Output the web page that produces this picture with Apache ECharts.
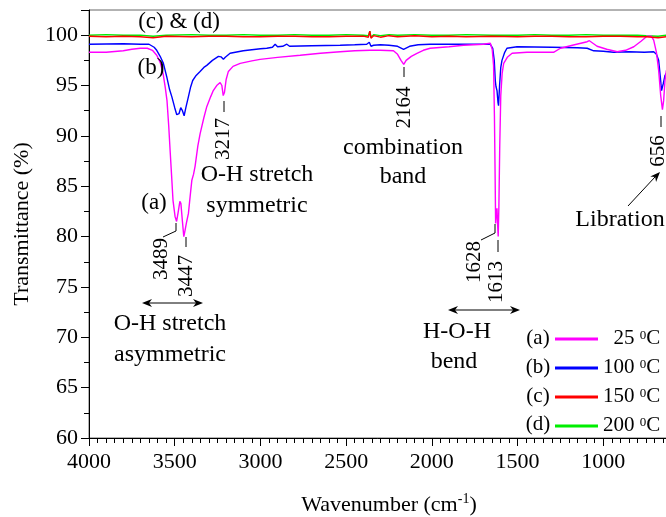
<!DOCTYPE html>
<html>
<head>
<meta charset="utf-8">
<script src="https://cdn.jsdelivr.net/npm/echarts@6/dist/echarts.min.js"></script>
<style>
  * { margin: 0; padding: 0; }
  body { background: #fff; }
  #chart { width: 666px; height: 517px; }
</style>
</head>
<body>
<div id="chart"></div>
<script>
// (a) 25 C
var wnA = [4000,3900,3800,3750,3700,3660,3630,3605,3585,3568,3555,3545,3535,3527,3518,3510,3498,3489,3480,3470,3464,3455,3447,3440,3430,3420,3410,3400,3390,3381,3365,3352,3330,3313,3290,3275,3255,3235,3225,3217,3210,3200,3187,3160,3118,3050,3002,2900,2768,2650,2535,2450,2360,2300,2224,2200,2180,2164,2150,2120,2087,2050,2010,1900,1815,1700,1659,1648,1640,1635,1631,1628,1624,1620,1616,1613,1609,1604,1598,1590,1581,1560,1532,1445,1350,1290,1250,1180,1094,1081,1070,1036,980,919,870,822,780,745,735,720,706,690,677,665,655,648,640,632];
var tA = [98.3,98.3,98.45,98.6,98.7,98.7,98.5,98.0,97.3,96.2,94.8,93.5,91.0,88.6,86.0,83.6,82.0,81.5,82.4,83.5,83.3,81.5,80.0,80.6,81.5,82.3,84.0,85.6,86.2,87.0,89.0,90.2,91.8,92.9,93.9,94.5,95.0,95.3,95.0,94.0,94.3,95.6,96.4,96.9,97.2,97.45,97.6,97.8,98.0,98.2,98.35,98.45,98.5,98.5,98.45,98.1,97.5,97.1,97.5,97.9,98.2,98.5,98.7,98.85,99.0,99.1,99.2,98.6,97.0,92.0,86.0,81.3,82.5,82.8,81.0,80.0,83.0,89.0,94.0,96.2,97.2,97.8,98.2,98.3,98.3,98.3,98.7,99.0,99.35,99.45,99.3,98.9,98.6,98.35,98.5,98.85,99.4,99.9,100.0,99.9,99.5,98.3,96.5,94.0,92.6,93.5,95.5,96.5];

// (b) 100 C
var wnB = [4000,3800,3700,3650,3620,3605,3585,3566,3547,3530,3517,3500,3488,3475,3465,3455,3445,3435,3420,3408,3395,3375,3352,3330,3313,3280,3245,3230,3216,3205,3177,3100,3000,2963,2930,2914,2900,2870,2846,2830,2700,2535,2450,2380,2365,2355,2340,2300,2250,2200,2165,2130,2080,2010,1800,1659,1645,1636,1630,1626,1620,1614,1611,1605,1598,1591,1575,1562,1503,1300,1150,1094,1056,1000,940,850,760,706,690,677,668,660,650,640,632];
var tB = [99.1,99.15,99.1,99.1,98.8,98.5,97.9,97.2,95.9,94.6,93.9,92.8,92.1,92.2,92.8,92.5,92.0,92.8,93.9,94.8,95.5,96.0,96.4,96.8,97.0,97.5,97.9,97.85,97.6,97.8,98.2,98.45,98.65,98.7,98.8,99.1,98.85,98.9,99.1,98.9,98.95,99.0,99.05,99.1,99.3,98.9,99.0,99.05,99.0,98.9,98.6,98.9,99.05,99.1,99.1,99.1,98.7,97.5,95.5,94.9,94.5,93.3,93.0,95.0,96.8,97.5,98.3,98.7,98.85,98.8,98.75,98.7,98.45,98.4,98.3,98.35,98.3,98.35,98.1,97.5,96.0,94.5,95.2,96.0,96.2];

// (c) 150 C
var wnC = [4000,3900,3800,3700,3626,3550,3400,3300,3200,3100,3000,2900,2800,2700,2600,2500,2400,2370,2362,2355,2340,2300,2250,2200,2100,2000,1900,1800,1650,1500,1400,1300,1200,1100,1000,900,800,750,680,632];
var tC = [99.9,99.85,99.9,99.85,99.75,99.9,99.85,99.9,99.9,99.85,99.85,99.9,99.9,99.85,99.85,99.9,99.9,99.8,100.4,99.7,99.95,99.8,99.95,99.85,99.95,99.85,99.9,99.85,99.9,99.85,99.9,99.9,99.85,99.85,99.9,99.9,99.85,99.85,99.75,99.85];

// (d) 200 C
var wnD = [4000,3900,3800,3700,3626,3550,3400,3300,3200,3100,3000,2900,2800,2700,2600,2500,2400,2370,2362,2355,2340,2300,2250,2200,2100,2000,1900,1800,1650,1500,1400,1300,1200,1100,1000,900,800,750,680,632];
var tD = [100.0,100.05,100.0,100.0,99.9,100.0,100.05,100.0,100.0,100.05,100.0,100.0,100.05,100.0,100.0,100.05,100.0,99.95,100.4,99.8,100.05,99.95,100.05,100.0,100.05,100.0,100.0,100.05,100.0,100.0,100.05,100.0,100.0,100.05,100.0,100.0,100.0,99.95,99.9,100.0];

var seriesNames = ['(a)', '(b)', '(c)', '(d)'];
var legendTemps = ['  25', '100', '150', '200'];
var seriesColors = ['#ff00ff', '#0000ff', '#ff0000', '#00ee00'];

var xTicks = { min: 500, max: 4000, interval: 500 };
var yTicks = { min: 60, max: 102.5, interval: 5 };

function pairs(xs, ys) {
  var out = [];
  for (var i = 0; i < xs.length; i++) out.push([xs[i], ys[i]]);
  return out;
}

var FONT = 'Liberation Serif';
var chart = echarts.init(document.getElementById('chart'));

function txt(s, x, y, size, rot) {
  return {
    type: 'text', x: x, y: y, rotation: rot ? Math.PI / 2 : 0, z: 100,
    style: { text: s, fontFamily: FONT, fontSize: size, fill: '#000', align: 'center', verticalAlign: 'middle' }
  };
}
function seg(pts) {
  return { type: 'polyline', z: 100, shape: { points: pts }, style: { stroke: '#000', lineWidth: 1, fill: null } };
}
function head(x, y, dx, dy) {
  // triangle arrow head pointing along (dx,dy)
  var len = Math.sqrt(dx * dx + dy * dy), ux = dx / len, uy = dy / len;
  var L = 10, W = 4;
  return {
    type: 'polygon', z: 100,
    shape: { points: [[x, y], [x - ux * L - uy * W, y - uy * L + ux * W], [x - ux * L * 0.7, y - uy * L * 0.7], [x - ux * L + uy * W, y - uy * L - ux * W]] },
    style: { fill: '#000' }
  };
}

var graphics = [
  txt('(c) & (d)', 179, 22, 23),
  txt('(b)', 151, 68, 23),
  txt('(a)', 154, 203, 23),
  // 3489 / 3447
  txt('3489', 161.5, 259, 21, true),
  seg([[163, 237], [176, 231], [176, 223]]),
  txt('3447', 186.5, 276, 21, true),
  seg([[186, 237], [186, 247]]),
  seg([[146, 303], [199, 303]]), head(142, 303, -1, 0), head(203, 303, 1, 0),
  txt('O-H stretch', 170, 324, 24),
  txt('asymmetric', 170, 355, 24),
  // 3217
  txt('3217', 223, 139, 21, true),
  seg([[224, 101], [224, 112]]),
  txt('O-H stretch', 257, 175, 24),
  txt('symmetric', 257, 206, 24),
  // 2164
  txt('2164', 404.5, 107.5, 21, true),
  seg([[404, 67], [404, 77]]),
  txt('combination', 403, 148, 24),
  txt('band', 403, 177, 24),
  // 1628 / 1613
  txt('1628', 474, 262, 21, true),
  seg([[481, 240], [495, 233], [495, 224]]),
  txt('1613', 496, 282, 21, true),
  seg([[498, 240], [498, 252]]),
  seg([[452, 310], [516, 310]]), head(448, 310, -1, 0), head(520, 310, 1, 0),
  txt('H-O-H', 457, 332, 24),
  txt('bend', 454, 362, 24),
  // 656
  txt('656', 658, 151, 21, true),
  seg([[661, 116], [661, 127]]),
  seg([[628, 206], [655, 177]]), head(660, 172, 32, -34),
  txt('Libration', 620, 220, 24)
];
// legend tags (a)..(d)
var legendRowY = [338, 367, 396, 424];
for (var i = 0; i < seriesNames.length; i++) graphics.push(txt(seriesNames[i], 538, legendRowY[i], 21));

var xs = [wnA, wnB, wnC, wnD], ys = [tA, tB, tC, tD];
var series = [];
[3, 2, 1, 0].forEach(function (k) {
  series.push({
    name: seriesNames[k], type: 'line', showSymbol: false, symbol: 'none',
    data: pairs(xs[k], ys[k]),
    lineStyle: { color: seriesColors[k], width: 1.4 },
    itemStyle: { color: seriesColors[k] },
    z: 10 + (k === 2 ? 5 : 3 - k),
    animation: false
  });
});

chart.setOption({
  animation: false,
  textStyle: { fontFamily: FONT },
  grid: {
    left: 89, top: 10, right: -23, bottom: 79, outerBoundsMode: 'none', containLabel: false,
    show: true, borderColor: '#666', borderWidth: 1, backgroundColor: 'transparent'
  },
  legend: {
    orient: 'vertical', left: 550, top: 323, itemGap: 6,
    itemWidth: 43, itemHeight: 3, icon: 'rect',
    data: seriesNames,
    formatter: function (name) {
      return '{n|' + legendTemps[seriesNames.indexOf(name)] + ' }{s|0}{n|C}';
    },
    textStyle: {
      color: '#000', fontFamily: FONT, fontSize: 21,
      rich: {
        n: { fontFamily: FONT, fontSize: 21, lineHeight: 20, verticalAlign: 'bottom' },
        s: { fontFamily: FONT, fontSize: 13, lineHeight: 20, verticalAlign: 'top', padding: [0, 0, 9, 0] }
      }
    }
  },
  xAxis: {
    type: 'value', inverse: true,
    min: xTicks.min, max: xTicks.max, interval: xTicks.interval,
    name: '{n|Wavenumber (cm}{s|-1}{n|)}', nameLocation: 'middle', nameGap: 54,
    nameTextStyle: {
      color: '#000',
      rich: {
        n: { fontFamily: FONT, fontSize: 22, lineHeight: 24, verticalAlign: 'bottom' },
        s: { fontFamily: FONT, fontSize: 14, lineHeight: 24, verticalAlign: 'top' }
      }
    },
    axisLine: { show: true, onZero: false, lineStyle: { color: '#000', width: 1 } },
    axisTick: { show: true, inside: false, length: 8, lineStyle: { color: '#000' } },
    minorTick: { show: true, splitNumber: 10, length: 5, lineStyle: { color: '#000' } },
    axisLabel: {
      color: '#000', fontFamily: FONT, fontSize: 22, margin: 13,
      formatter: function (v) { return String(v); }
    },
    splitLine: { show: false }
  },
  yAxis: {
    type: 'value',
    min: yTicks.min, max: yTicks.max, interval: yTicks.interval,
    name: 'Transmittance (%)', nameLocation: 'middle', nameGap: 56,
    nameTextStyle: { color: '#000', fontFamily: FONT, fontSize: 22 },
    axisLine: { show: true, onZero: false, lineStyle: { color: '#000', width: 1 } },
    axisTick: { show: true, inside: false, length: 8, lineStyle: { color: '#000' } },
    minorTick: { show: true, splitNumber: 2, length: 5, lineStyle: { color: '#000' } },
    axisLabel: {
      color: '#000', fontFamily: FONT, fontSize: 22, margin: 11,
      formatter: function (v) { return v % 5 === 0 ? String(v) : ''; }
    },
    splitLine: { show: false }
  },
  series: series,
  graphic: graphics
});
</script>
</body>
</html>
